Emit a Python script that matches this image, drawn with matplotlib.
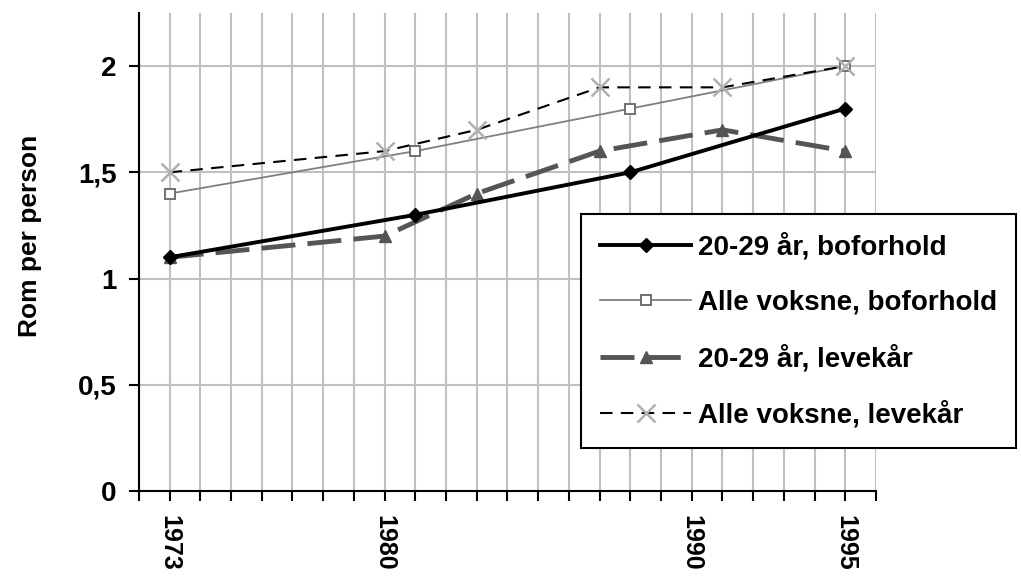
import matplotlib.pyplot as plt

plt.rcParams['font.family'] = ['Liberation Sans', 'DejaVu Sans']

# data
years_ung_bo = [1973, 1981, 1988, 1995]
ung_bo = [1.1, 1.3, 1.5, 1.8]

years_alle_bo = [1973, 1981, 1988, 1995]
alle_bo = [1.4, 1.6, 1.8, 2.0]

years_ung_lev = [1973, 1980, 1983, 1987, 1991, 1995]
ung_lev = [1.1, 1.2, 1.4, 1.6, 1.7, 1.6]

years_alle_lev = [1973, 1980, 1983, 1987, 1991, 1995]
alle_lev = [1.5, 1.6, 1.7, 1.9, 1.9, 2.0]

all_years = list(range(1972, 1997))
labelled_years = [1973, 1980, 1990, 1995]
ytick_vals = [0, 0.5, 1, 1.5, 2]
ytick_labels = ['0', '0,5', '1', '1,5', '2']

fig = plt.figure(figsize=(10.21, 5.77), dpi=100)
ax = fig.add_axes([0.136, 0.149, 0.722, 0.8285])

ax.plot(years_ung_bo, ung_bo, color='black', lw=2.8, marker='D', ms=7,
        label='20-29 år, boforhold', zorder=4)
ax.plot(years_alle_bo, alle_bo, color='#808080', lw=1.3, marker='s', ms=7,
        mfc='white', mec='#707070', mew=1.4, label='Alle voksne, boforhold', zorder=3)
ax.plot(years_ung_lev, ung_lev, color='#555555', lw=3.5, dashes=(7, 2.5), marker='^', ms=9,
        label='20-29 år, levekår', zorder=3)
ax.plot(years_alle_lev, alle_lev, color='black', lw=1.5, dashes=(6, 4), marker='x', ms=13,
        mec='#b0b0b0', mew=1.8, label='Alle voksne, levekår', zorder=3)

ax.set_xlim(1972, 1996)
ax.set_ylim(0, 2.25)

ax.set_xticks(all_years)
ax.set_xticklabels([str(y) if y in labelled_years else '' for y in all_years],
                   rotation=-90, fontsize=18, fontweight='bold', va='top')
ax.tick_params(axis='x', length=7, width=1.5, direction='out', pad=10)

ax.set_yticks(ytick_vals)
ax.set_yticklabels(ytick_labels, fontsize=20, fontweight='bold')
ax.tick_params(axis='y', length=7, width=1.5, direction='out', pad=9)

ax.grid(True, color='#c0c0c0', lw=1.5)
ax.set_axisbelow(True)

for s in ['top', 'right']:
    ax.spines[s].set_visible(False)
for s in ['left', 'bottom']:
    ax.spines[s].set_linewidth(1.5)

fig.text(30 / 1021, 1 - 236 / 577, 'Rom per person', rotation=90, ha='center', va='center',
         fontsize=19, fontweight='bold')

leg = ax.legend(loc='upper left', bbox_to_anchor=(581 / 1021, 1 - 214 / 577),
                bbox_transform=fig.transFigure, borderaxespad=0, fancybox=False,
                framealpha=1, edgecolor='black', handlelength=3.25, labelspacing=1.04,
                handletextpad=0.25, borderpad=0.7,
                prop={'size': 20, 'weight': 'bold'})
leg.get_frame().set_linewidth(1.5)

fig.savefig('out.png', dpi=100)
